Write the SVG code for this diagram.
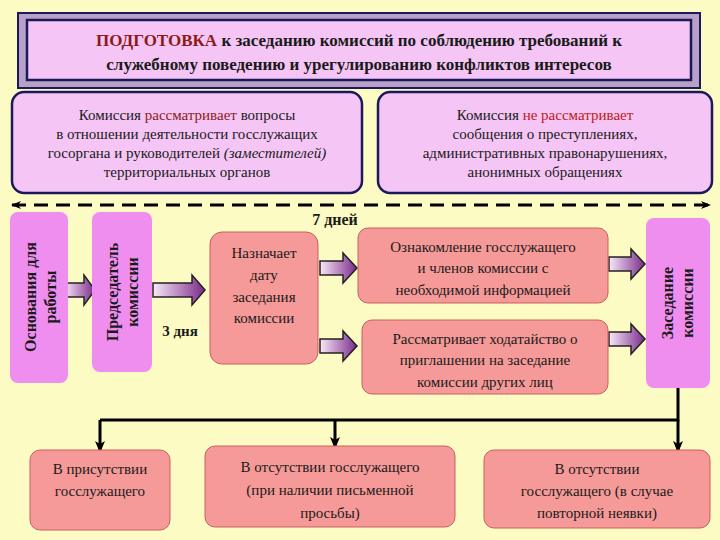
<svg xmlns="http://www.w3.org/2000/svg" width="720" height="540" viewBox="0 0 720 540" font-family="'Liberation Serif', 'DejaVu Serif', serif">
<defs>
<linearGradient id="ba" x1="0" y1="0" x2="1" y2="0"><stop offset="0" stop-color="#f8e8f8"/><stop offset="1" stop-color="#7a2a8a"/></linearGradient>
<marker id="ah" markerWidth="12" markerHeight="10" refX="11" refY="5" orient="auto" markerUnits="userSpaceOnUse"><path d="M0,0 L12,5 L0,10 L3,5 Z" fill="#000"/></marker>
<marker id="dh" markerWidth="10" markerHeight="8" refX="9" refY="4" orient="auto-start-reverse" markerUnits="userSpaceOnUse"><path d="M0,0 L10,4 L0,8 L3,4 Z" fill="#000"/></marker>
<style>
text{text-anchor:middle;fill:#1a1a1a}
.b{font-weight:bold}
.lav{fill:#f5c6f5;stroke:#1a1a5a;stroke-width:2.5}
.vio{fill:#f08ef0;stroke:none}
.sal{fill:#f59a98;stroke:#c86060;stroke-width:1}
.ba{fill:url(#ba);stroke:#222;stroke-width:1.5}
.t{font-size:15px}
</style>
</defs>
<rect width="720" height="540" fill="#fdfbc4"/>

<g id="title">
<rect x="18" y="13" width="682" height="75" fill="#b8a0c8" stroke="#1a1a5a" stroke-width="2"/>
<rect x="27" y="20" width="664" height="60" class="lav" stroke-width="2"/>
<text x="359" y="46" class="b" font-size="17"><tspan fill="#8b1a1a">ПОДГОТОВКА</tspan> к заседанию комиссий по соблюдению требований к</text>
<text x="359" y="70" class="b" font-size="17">служебному поведению и урегулированию конфликтов интересов</text>
</g>

<g id="scope-yes">
<rect x="12" y="92" width="350" height="101" rx="12" class="lav"/>
<text x="187" y="120" class="t">Комиссия <tspan fill="#8b1a1a">рассматривает</tspan> вопросы</text>
<text x="187" y="139" class="t">в отношении деятельности госслужащих</text>
<text x="187" y="158" class="t">госоргана и руководителей <tspan font-style="italic">(заместителей)</tspan></text>
<text x="187" y="177" class="t">территориальных органов</text>
</g>
<g id="scope-no">
<rect x="378" y="92" width="334" height="101" rx="12" class="lav"/>
<text x="545" y="120" class="t">Комиссия <tspan fill="#c01818">не рассматривает</tspan></text>
<text x="545" y="139" class="t">сообщения о преступлениях,</text>
<text x="545" y="158" class="t">административных правонарушениях,</text>
<text x="545" y="177" class="t">анонимных обращениях</text>
</g>

<g id="connectors">
<line x1="12" y1="205" x2="710" y2="205" stroke="#000" stroke-width="3" stroke-dasharray="14,8" marker-start="url(#dh)" marker-end="url(#dh)"/>
<path class="ba" d="M64,283 H84 V275 L95,290 L84,305 V297 H64 Z"/>
<path class="ba" d="M153,283 H192 V275 L205,290 L192,305 V297 H153 Z"/>
<path class="ba" d="M320,261 H343 V253 L357,268 L343,283 V275 H320 Z"/>
<path class="ba" d="M320,339 H343 V331 L357,346 L343,361 V353 H320 Z"/>
<path class="ba" d="M609,257 H631 V249 L645,264 L631,279 V271 H609 Z"/>
<path class="ba" d="M609,332 H631 V324 L645,339 L631,354 V346 H609 Z"/>
<g stroke="#000" stroke-width="3" fill="none">
<polyline points="678,388 678,420 100,420"/>
<line x1="100" y1="420" x2="100" y2="452" marker-end="url(#ah)"/>
<line x1="335" y1="420" x2="335" y2="448" marker-end="url(#ah)"/>
<line x1="678" y1="420" x2="678" y2="452" marker-end="url(#ah)"/>
</g>
<text x="335" y="225" class="b" font-size="16">7 дней</text>
<text x="180" y="336" class="b" font-size="15">3 дня</text>
</g>

<g id="osnovaniya">
<rect x="10" y="212" width="58" height="171" rx="8" class="vio"/>
<text transform="translate(36,297) rotate(-90)" class="b" font-size="16">Основания для</text>
<text transform="translate(56,297) rotate(-90)" class="b" font-size="16">работы</text>
</g>
<g id="predsedatel">
<rect x="92" y="212" width="60" height="160" rx="8" class="vio"/>
<text transform="translate(118,292) rotate(-90)" class="b" font-size="16">Председатель</text>
<text transform="translate(138,292) rotate(-90)" class="b" font-size="16">комиссии</text>
</g>
<g id="naznachaet">
<rect x="210" y="232" width="108" height="132" rx="12" class="sal"/>
<text x="264" y="258" class="t">Назначает</text>
<text x="264" y="280" class="t">дату</text>
<text x="264" y="302" class="t">заседания</text>
<text x="264" y="323" class="t">комиссии</text>
</g>
<g id="oznakomlenie">
<rect x="358" y="228" width="250" height="75" rx="10" class="sal"/>
<text x="483" y="252" class="t">Ознакомление госслужащего</text>
<text x="483" y="273" class="t">и членов комиссии с</text>
<text x="483" y="295" class="t">необходимой информацией</text>
</g>
<g id="hodataystvo">
<rect x="362" y="320" width="246" height="74" rx="10" class="sal"/>
<text x="485" y="344" class="t">Рассматривает ходатайство о</text>
<text x="485" y="365" class="t">приглашении на заседание</text>
<text x="485" y="387" class="t">комиссии других лиц</text>
</g>
<g id="zasedanie">
<rect x="646" y="218" width="64" height="170" rx="8" class="vio"/>
<text transform="translate(673,303) rotate(-90)" class="b" font-size="16">Заседание</text>
<text transform="translate(693,303) rotate(-90)" class="b" font-size="16">комиссии</text>
</g>
<g id="prisutstvie">
<rect x="30" y="450" width="140" height="80" rx="10" class="sal"/>
<text x="100" y="474" class="t">В присутствии</text>
<text x="100" y="496" class="t">госслужащего</text>
</g>
<g id="otsutstvie1">
<rect x="205" y="446" width="250" height="81" rx="10" class="sal"/>
<text x="330" y="472" class="t">В отсутствии госслужащего</text>
<text x="330" y="495" class="t">(при наличии письменной</text>
<text x="330" y="518" class="t">просьбы)</text>
</g>
<g id="otsutstvie2">
<rect x="484" y="450" width="226" height="78" rx="10" class="sal"/>
<text x="597" y="474" class="t">В отсутствии</text>
<text x="597" y="496" class="t">госслужащего (в случае</text>
<text x="597" y="518" class="t">повторной неявки)</text>
</g>
</svg>
